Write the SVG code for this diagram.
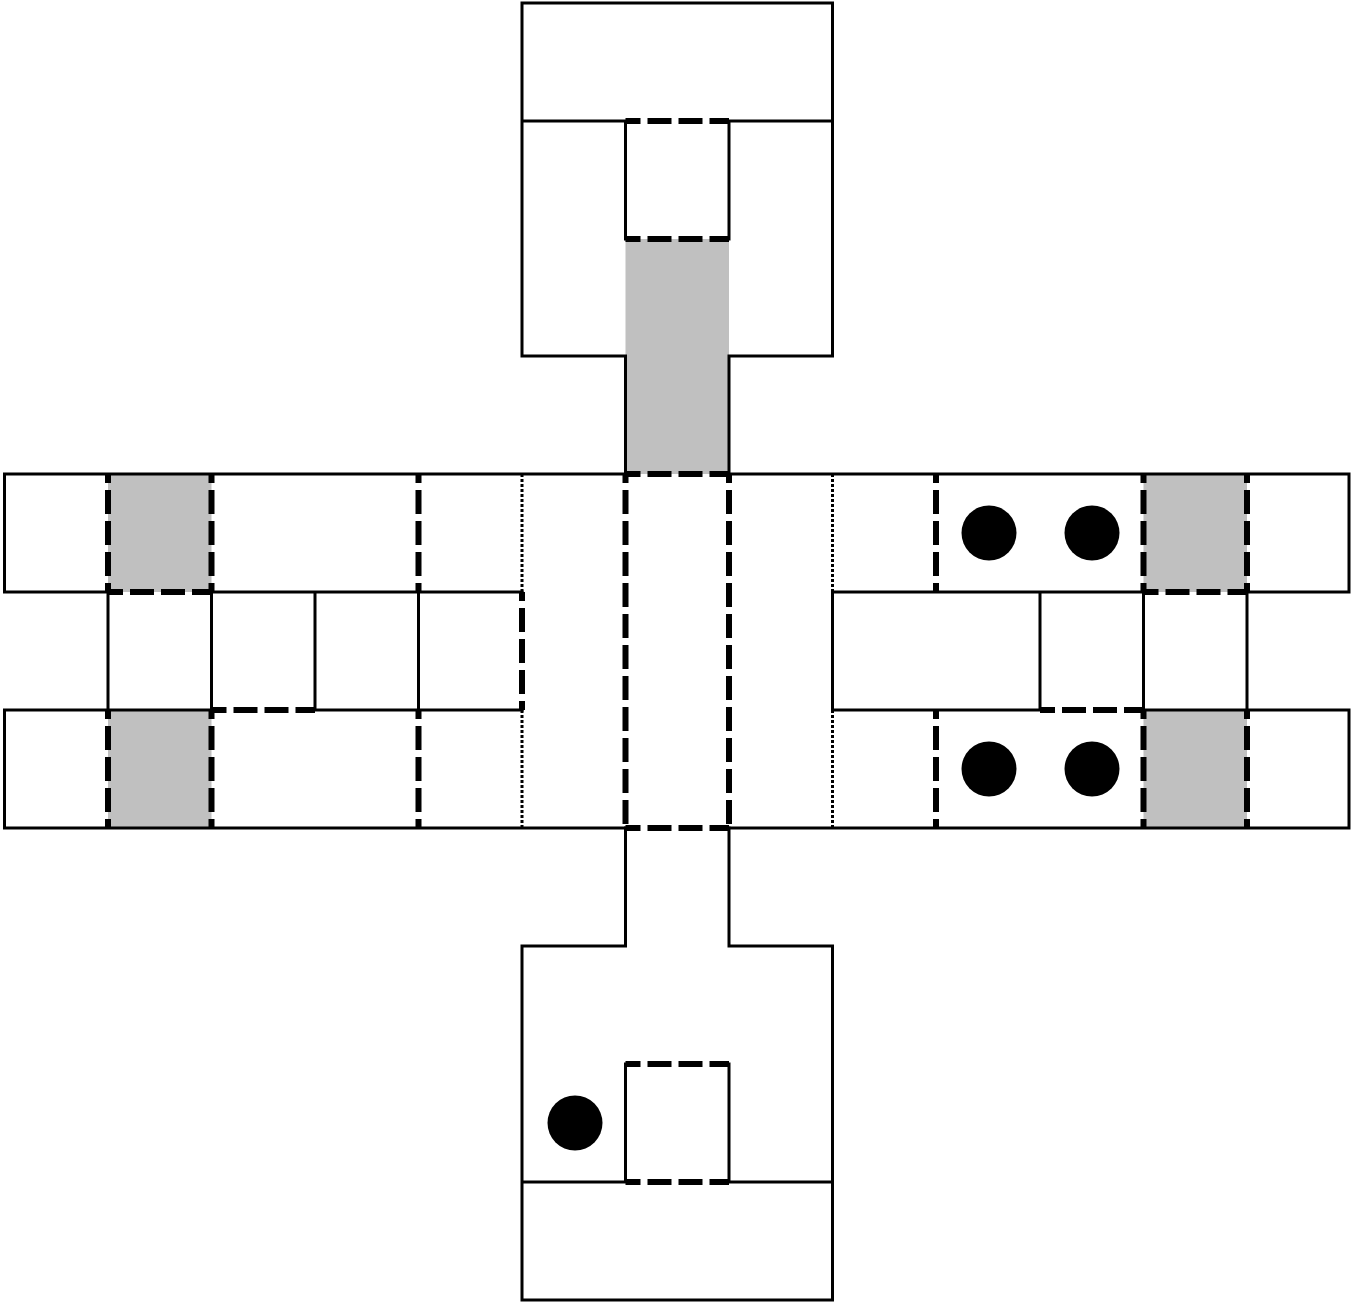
<svg xmlns="http://www.w3.org/2000/svg" width="1351" height="1303" viewBox="0 0 1351 1303">
<style>
.g{fill:#c0c0c0;stroke:none}
.s{fill:none;stroke:#000;stroke-width:3;stroke-linecap:square;stroke-linejoin:miter}
.dv{fill:none;stroke:#000;stroke-width:6;stroke-dasharray:24 7;stroke-dashoffset:15}
.dh{fill:none;stroke:#000;stroke-width:6;stroke-dasharray:24 7;stroke-dashoffset:9}
.o{fill:none;stroke:#000;stroke-width:3;stroke-dasharray:3 2}
.c{fill:#000}
</style>
<rect x="0" y="0" width="1351" height="1303" fill="#fff"/>
<g id="fills">
<rect class="g" x="625.5" y="239" width="103.5" height="235"/>
<rect class="g" x="108" y="474" width="103.5" height="118"/>
<rect class="g" x="108" y="710" width="103.5" height="118"/>
<rect class="g" x="1143.5" y="474" width="103.5" height="118"/>
<rect class="g" x="1143.5" y="710" width="103.5" height="118"/>
</g>
<g id="top-block">
<path class="s" d="M522 3 H832.5 V356 H729 V474 M522 3 V356 H625.5 V474 M522 121 H625.5 M729 121 H832.5 M625.5 121 V239 M729 121 V239"/>
<path class="dh" d="M625.5 121 H729 M625.5 239 H729"/>
</g>
<g id="left-wing">
<path class="s" d="M4.5 474 H625.5 M4.5 828 H625.5 M4.5 474 V592 M4.5 710 V828 M4.5 592 H108 M211.5 592 H522 M4.5 710 H211.5 M315 710 H522 M108 592 V710 M211.5 592 V710 M315 592 V710 M418.5 592 V710"/>
<path class="dh" d="M108 592 H211.5 M211.5 710 H315"/>
<path class="dv" d="M108 474 V592 M211.5 474 V592 M418.5 474 V592 M108 710 V828 M211.5 710 V828 M418.5 710 V828 M522 592 V710"/>
<path class="o" d="M522 474 V592 M522 710 V828"/>
</g>
<g id="center">
<path class="dv" d="M625.5 474 V828 M729 474 V828"/>
<path class="dh" d="M625.5 474 H729 M625.5 828 H729"/>
</g>
<g id="right-wing">
<path class="s" d="M729 474 H1349 M729 828 H1349 M1349 474 V592 M1349 710 V828 M832.5 592 H1143.5 M1247 592 H1349 M832.5 710 H1040 M1143.5 710 H1349 M832.5 592 V710 M1040 592 V710 M1143.5 592 V710 M1247 592 V710"/>
<path class="dh" d="M1143.5 592 H1247 M1040 710 H1143.5"/>
<path class="dv" d="M936 474 V592 M1143.5 474 V592 M1247 474 V592 M936 710 V828 M1143.5 710 V828 M1247 710 V828"/>
<path class="o" d="M832.5 474 V592 M832.5 710 V828"/>
<circle class="c" cx="989" cy="533" r="27.5"/>
<circle class="c" cx="1092" cy="533" r="27.5"/>
<circle class="c" cx="989" cy="769" r="27.5"/>
<circle class="c" cx="1092" cy="769" r="27.5"/>
</g>
<g id="bottom-block">
<path class="s" d="M625.5 828 V946 H522 V1300 H832.5 V946 H729 V828 M522 1182 H625.5 M729 1182 H832.5 M625.5 1064 V1182 M729 1064 V1182"/>
<path class="dh" d="M625.5 1064 H729 M625.5 1182 H729"/>
<circle class="c" cx="575" cy="1123" r="27.5"/>
</g>
</svg>
